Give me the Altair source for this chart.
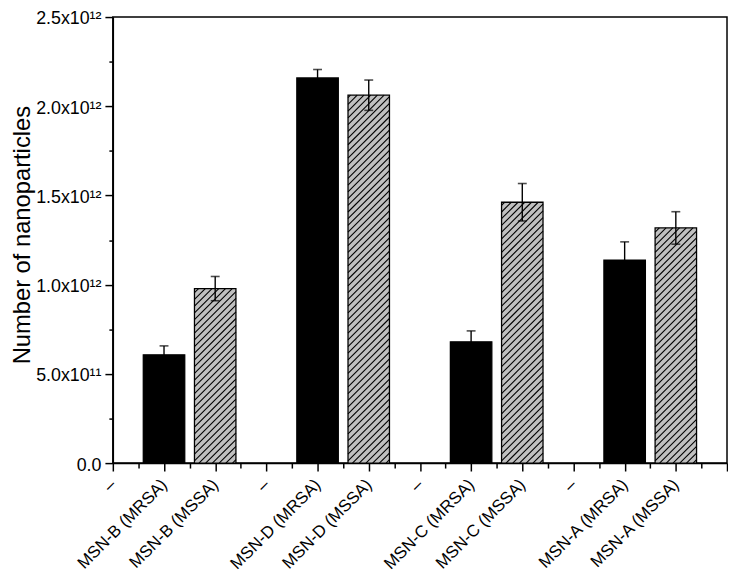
import json
import numpy as np
import pandas as pd
import altair as alt

# ---------------- data ----------------
x_labels = ["–", "MSN-B (MRSA)", "MSN-B (MSSA)", "–", "MSN-D (MRSA)", "MSN-D (MSSA)",
            "–", "MSN-C (MRSA)", "MSN-C (MSSA)", "–", "MSN-A  (MRSA)", "MSN-A  (MSSA)"]
bar_labels = ["MSN-B (MRSA)", "MSN-B (MSSA)", "MSN-D (MRSA)", "MSN-D (MSSA)",
              "MSN-C (MRSA)", "MSN-C (MSSA)", "MSN-A  (MRSA)", "MSN-A  (MSSA)"]
bar_kind = ["MRSA", "MSSA", "MRSA", "MSSA", "MRSA", "MSSA", "MRSA", "MSSA"]
bar_values = [0.607e12, 0.978e12, 2.159e12, 2.062e12, 0.680e12, 1.462e12, 1.137e12, 1.318e12]
bar_errors = [0.050e12, 0.068e12, 0.047e12, 0.085e12, 0.061e12, 0.105e12, 0.103e12, 0.091e12]
y_tick_values = [0, 5e11, 1e12, 1.5e12, 2e12, 2.5e12]
y_tick_labels = ["0.0", "5.0x10¹¹", "1.0x10¹²", "1.5x10¹²", "2.0x10¹²", "2.5x10¹²"]
y_minor_values = [2.5e11, 7.5e11, 1.25e12, 1.75e12, 2.25e12]

# ---------------- layout constants ----------------
W, H = 621, 451
X_MAX = len(x_labels)          # axis runs 0 .. 12
Y_MAX = 2.5e12
BAR_HALF = 0.405               # half bar width in category units
HATCH_STEP = 6.8               # px
FONT = "Liberation Sans"

pos = [x_labels.index(l) for l in bar_labels]
bars = pd.DataFrame({
    "label": bar_labels, "kind": bar_kind, "pos": pos,
    "value": bar_values, "err": bar_errors,
})

# hatch segments for the MSSA bars (decoration clipped to each bar)
px_x = W / X_MAX
px_y = H / Y_MAX
seg = []
for _, r in bars[bars.kind == "MSSA"].iterrows():
    left = r.pos - BAR_HALF
    w = 2 * BAR_HALF * px_x
    h = r.value * px_y
    for c in np.arange(-w + HATCH_STEP / 2, h, HATCH_STEP):
        xs = max(0.0, -c)
        xe = min(w, h - c)
        if xe - xs < 0.5:
            continue
        seg.append({"hx1": left + xs / px_x, "hy1": (xs + c) / px_y,
                    "hx2": left + xe / px_x, "hy2": (xe + c) / px_y})
hatch = pd.DataFrame(seg)

xs_scale = alt.Scale(domain=[0, X_MAX], nice=False, zero=False)
ys_scale = alt.Scale(domain=[0, Y_MAX], nice=False)

x_label_expr = json.dumps(x_labels, ensure_ascii=False) + "[datum.value] || ''"
y_label_expr = json.dumps(y_tick_labels, ensure_ascii=False) + "[round(datum.value / 5e11)]"

base = alt.Chart(bars)

bar_layer = base.transform_calculate(
    xlo=f"datum.pos - {BAR_HALF}", xhi=f"datum.pos + {BAR_HALF}"
).mark_bar(stroke="black", strokeWidth=1.3).encode(
    x=alt.X("xlo:Q", scale=xs_scale, axis=alt.Axis(
        values=list(range(X_MAX + 1)), labelExpr=x_label_expr, title=None,
        orient="bottom", tickSize=8, labelAngle=-45, labelAlign="right",
        labelBaseline="middle", labelPadding=11, labelFontSize=17,
        labelOverlap=False, labelBound=False, labelFlush=False)),
    x2="xhi:Q",
    y=alt.Y("value:Q", scale=ys_scale, axis=alt.Axis(
        values=y_tick_values, labelExpr=y_label_expr, orient="left",
        title="Number of nanoparticles", titleFontSize=24, titleFontWeight="normal",
        titleX=-84, titleY=220, titleAngle=-90, titleAlign="center",
        titleBaseline="alphabetic", tickSize=8, labelPadding=4, labelFontSize=18,
        labelOffset=2, labelOverlap=False, labelFlush=False)),
    y2=alt.datum(0),
    fill=alt.Fill("kind:N", scale=alt.Scale(domain=["MRSA", "MSSA"],
                                            range=["#000000", "#c0c0c0"]), legend=None),
)

hatch_layer = alt.Chart(hatch).mark_rule(color="black", strokeWidth=1.1).encode(
    x=alt.X("hx1:Q", scale=xs_scale, axis=alt.Axis(
        values=[i + 0.5 for i in range(X_MAX)], labels=False, domain=False,
        title=None, orient="bottom", tickSize=5)),
    x2="hx2:Q",
    y=alt.Y("hy1:Q", scale=ys_scale, axis=alt.Axis(
        values=y_minor_values, labels=False, domain=False, title=None,
        orient="left", tickSize=4)),
    y2="hy2:Q",
)

err_base = base.transform_calculate(lo="datum.value - datum.err", hi="datum.value + datum.err")

err_line = err_base.mark_rule(color="black", strokeWidth=1.4).encode(
    x=alt.X("pos:Q", scale=xs_scale, axis=None),
    y=alt.Y("lo:Q", scale=ys_scale, axis=None),
    y2="hi:Q",
)
cap_hi = err_base.mark_tick(color="black", orient="horizontal", size=9, thickness=1.6).encode(
    x=alt.X("pos:Q", scale=xs_scale, axis=None),
    y=alt.Y("hi:Q", scale=ys_scale, axis=None),
)
cap_lo = err_base.mark_tick(color="black", orient="horizontal", size=9, thickness=1.6).encode(
    x=alt.X("pos:Q", scale=xs_scale, axis=None),
    y=alt.Y("lo:Q", scale=ys_scale, axis=None),
)

chart = alt.layer(bar_layer, hatch_layer, err_line, cap_hi, cap_lo).resolve_axis(
    x="independent", y="independent"
).properties(
    width=W, height=H,
    padding={"left": 106, "top": 6, "right": 1, "bottom": 111},
    autosize=alt.AutoSizeParams(type="none"),
).configure_view(
    stroke="black", strokeWidth=1.5
).configure_axis(
    domainColor="black", domainWidth=1.5, tickColor="black", tickWidth=1.5,
    grid=False, labelColor="black", labelFont=FONT, titleFont=FONT, titleColor="black",
)

chart.save("out.html", embed_options={"renderer": "svg", "actions": False})
